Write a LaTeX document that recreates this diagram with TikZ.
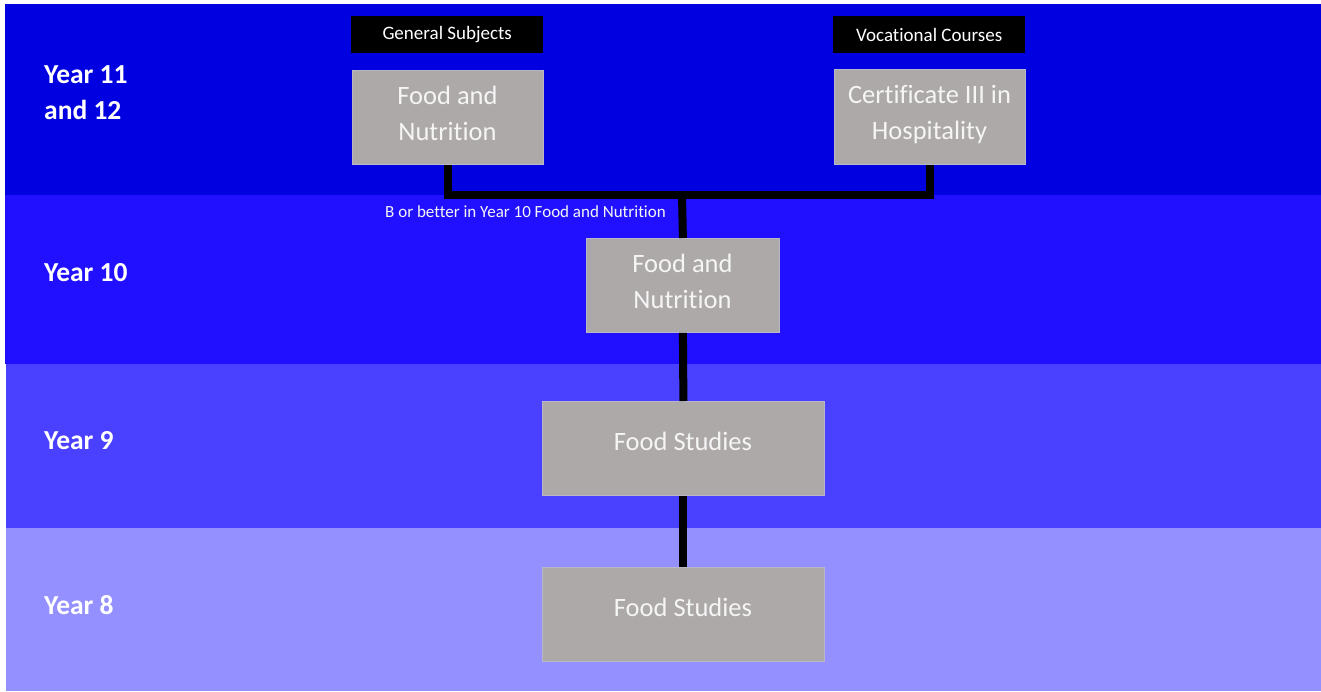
\documentclass[tikz,border=0pt]{standalone}
\usepackage{fontspec}
\setmainfont{Carlito}[Ligatures=NoCommon]
\definecolor{bandA}{RGB}{0,0,224}
\definecolor{bandB}{RGB}{32,16,255}
\definecolor{bandC}{RGB}{74,64,255}
\definecolor{bandD}{RGB}{148,144,255}
\definecolor{boxgray}{RGB}{173,169,168}
\definecolor{boxedge}{RGB}{185,182,200}
\definecolor{txtw}{RGB}{245,245,245}
\begin{document}
\begin{tikzpicture}[x=1pt,y=-1pt,
  course/.style={fill=boxgray,draw=boxedge,line width=0.8pt,inner sep=0pt,anchor=north west},
  coursetext/.style={text=txtw,align=center,font=\fontsize{26.5}{36}\selectfont},
  tag/.style={fill=black,inner sep=0pt,anchor=north west,text=white,font=\fontsize{19}{20}\selectfont},
  yearlbl/.style={anchor=west,inner sep=0pt,text=white,align=left,font=\bfseries\fontsize{27.5}{36}\selectfont},
  conn/.style={line width=8pt,draw=black,line join=miter}]
\useasboundingbox (0,0) rectangle (1321,691);
\fill[white] (0,0) rectangle (1321,691);
% bands
\fill[bandA] (5,4) rectangle (1321,195);
\fill[bandB] (5,195) rectangle (1321,364);
\fill[bandC] (6,364) rectangle (1321,528);
\fill[bandD] (6,528) rectangle (1321,691);
% year labels
\node[yearlbl] (y11) at (44,93) {Year 11\\and 12};
\node[yearlbl] (y10) at (44,273) {Year 10};
\node[yearlbl] (y9) at (44,441) {Year 9};
\node[yearlbl] (y8) at (44,605) {Year 8};
% tags
\node[tag,minimum width=192pt,minimum height=37pt] (gs) at (351,16) {General Subjects};
\node[tag,minimum width=192pt,minimum height=37pt] (vc) at (833,16) {Vocational Courses};
% boxes
\node[course,minimum width=191pt,minimum height=94pt] (fn11) at (352,70) {};
\node[course,minimum width=191pt,minimum height=95pt] (cert) at (834,69) {};
\node[course,minimum width=193pt,minimum height=94pt] (fn10) at (586,238) {};
\node[course,minimum width=282pt,minimum height=94pt] (fs9) at (542,401) {};
\node[course,minimum width=282pt,minimum height=94pt] (fs8) at (542,567) {};
% box texts
\node[coursetext] (tfn11) at (447.5,113) {Food and\\Nutrition};
\node[coursetext] (tcert) at (929.5,115) {Certificate III in\\Hospitality};
\node[coursetext] (tfn10) at (682.5,281) {Food and\\Nutrition};
\node[coursetext] (tfs9) at (683,441) {Food Studies};
\node[coursetext] (tfs8) at (683,607) {Food Studies};
% connectors
\coordinate (j) at (682,195);
\draw[conn] (fn11.south) |- (j) -| (cert.south);
\draw[conn] (j) -- (fn10.north);
\draw[conn] (fn10.south) -- (fs9.north);
\draw[conn] (fs9.south) -- (fs8.north);
% condition label
\node[text=txtw,font=\fontsize{17}{20}\selectfont] (cond) at (525.5,212) {B or better in Year 10 Food and Nutrition};
\end{tikzpicture}
\end{document}
